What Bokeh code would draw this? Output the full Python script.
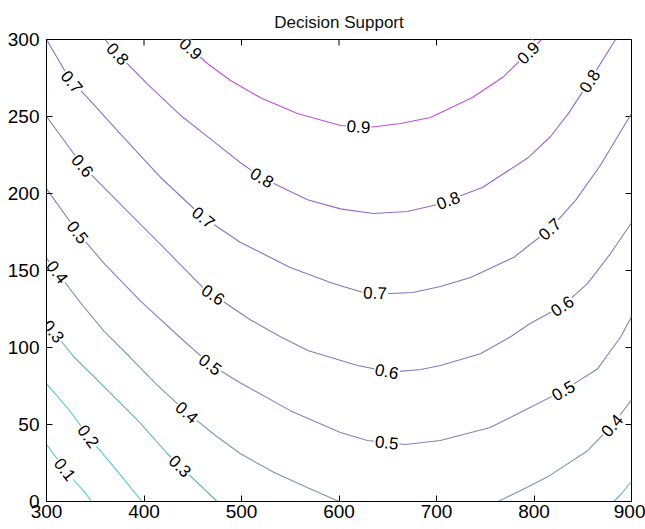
import numpy as np
from bokeh.plotting import figure
from bokeh.models import Range1d, FixedTicker, ColumnDataSource
from bokeh.embed import file_html
from bokeh.resources import INLINE
from bokeh.core.properties import value

# ---- data: traced contour lines of the decision-support surface ----
x_ticks = [300, 400, 500, 600, 700, 800, 900]
y_ticks = [0, 50, 100, 150, 200, 250, 300]

c01_x = [300, 310, 320, 330, 340, 346]
c01_y = [37, 28.5, 20, 12.5, 5.5, 0]

c02_x = [300, 323.6, 346.2, 369.7, 398]
c02_y = [76.6, 59.1, 39.6, 22, 0]

c03a_x = [300, 328, 363, 396, 424, 437, 475]
c03a_y = [116, 94, 72, 51, 31, 23, 0]
c03b_x = [882, 891, 900]
c03b_y = [0, 6, 13]

c04a_x = [300, 311, 335, 358.5, 386, 412, 443.6, 473, 499, 533, 568, 600]
c04a_y = [158, 149, 129, 111, 93.5, 76.6, 58, 43, 31, 19, 9, 0]
c04b_x = [763, 786, 814, 855, 881, 900]
c04b_y = [0, 7, 16, 33, 50, 66]

c05_x = [300, 333, 358.5, 396, 437, 468, 499, 550, 601.5, 629, 668, 704,
         755, 796, 830, 865, 889, 900]
c05_y = [203, 174, 155, 130.5, 106.5, 89, 77, 59, 44.8, 39.6, 37, 39.6,
         48, 61, 72, 86, 107, 120]

c06_x = [300, 337, 379, 420, 461, 509, 540, 568, 619, 653, 684, 704, 745,
         776, 796, 830, 855, 878.5, 900]
c06_y = [250, 218, 191, 165, 138.5, 118, 107, 98, 88.3, 84, 85.7, 88.3, 96,
         107, 115.6, 127.3, 141.6, 161, 181]

c07_x = [300, 324.6, 342, 379, 417, 461, 499, 550, 594, 625, 653, 676, 704,
         735, 779, 817, 842.6, 868, 900]
c07_y = [300, 273.4, 262.3, 236.4, 210.4, 184.4, 168.2, 152, 141.6, 135.7,
         135.1, 135.7, 139.6, 145.5, 158.4, 177.3, 195.5, 218.2, 252]

c08_x = [360, 371, 403.6, 437, 471, 499, 521.5, 567.7, 601.5, 635, 670, 701,
         747, 794.4, 817, 835.4, 856, 883.6]
c08_y = [300, 292, 271, 251, 234, 220, 210, 196, 190, 187, 188.3, 192.9,
         203.9, 223.4, 237, 252, 272, 300]

c09_x = [437.4, 465, 488.7, 520, 557.4, 601.5, 630.3, 663, 693.8, 736.9,
         767.7, 794.4, 807.7]
c09_y = [300, 284.4, 273.4, 262, 252, 244.2, 242.9, 245.5, 249.4, 262.3,
         275.3, 291.6, 300]

# ---- styling ----
level_colors = {
    0.1: "#3ed2d2", 0.2: "#4ccad0", 0.3: "#62b0c0", 0.4: "#7898b0",
    0.5: "#7a88b8", 0.6: "#7c80bc", 0.7: "#8476c0", 0.8: "#9868c8",
    0.9: "#c050d6",
}

# (level, xs, ys, x positions of the inline labels)
branches = [
    (0.1, c01_x, c01_y, [319]),
    (0.2, c02_x, c02_y, [343]),
    (0.3, c03a_x, c03a_y, [307, 437]),
    (0.3, c03b_x, c03b_y, []),
    (0.4, c04a_x, c04a_y, [311, 444]),
    (0.4, c04b_x, c04b_y, [880]),
    (0.5, c05_x, c05_y, [332, 468, 649, 830]),
    (0.6, c06_x, c06_y, [337, 471, 649, 829]),
    (0.7, c07_x, c07_y, [326, 461, 637, 816]),
    (0.8, c08_x, c08_y, [373, 521, 712, 857]),
    (0.9, c09_x, c09_y, [448, 620, 794]),
]

W, H = 645, 529
BL, BR, BT, BB = 46, 14, 39, 28
XR = (300, 900)
YR = (0, 300)
TICK = 6  # inward tick length, px

p = figure(width=W, height=H, x_range=Range1d(*XR), y_range=Range1d(*YR),
           output_backend="svg", toolbar_location=None,
           min_border_left=BL, min_border_right=BR,
           min_border_top=BT, min_border_bottom=BB,
           title="Decision Support")
p.background_fill_color = "white"
p.border_fill_color = "white"
p.grid.visible = False
p.outline_line_color = "black"
p.outline_line_width = 1

p.title.align = "center"
p.title.text_font = "Liberation Sans"
p.title.text_font_size = "17px"
p.title.text_font_style = "normal"
p.title.text_color = "#111111"
p.title.standoff = 16

tick_font = "Liberation Sans"
tick_size = "19px"

for ax in p.xaxis:
    ax.ticker = FixedTicker(ticks=x_ticks)
    ax.major_label_standoff = 3
for ax in p.yaxis:
    ax.ticker = FixedTicker(ticks=y_ticks)
    ax.major_label_standoff = 7
for ax in list(p.xaxis) + list(p.yaxis):
    ax.major_tick_in = TICK
    ax.major_tick_out = 0
    ax.minor_tick_in = 0
    ax.minor_tick_out = 0
    ax.axis_line_color = "black"
    ax.major_tick_line_color = "black"
    ax.major_label_text_font = tick_font
    ax.major_label_text_font_size = tick_size
    ax.major_label_text_color = "black"

sx = (W - BL - BR) / (XR[1] - XR[0])
sy = (H - BT - BB) / (YR[1] - YR[0])

# mirrored inward ticks along the top and right edges of the box
p.segment(x0=x_ticks, y0=[YR[1]] * len(x_ticks),
          x1=x_ticks, y1=[YR[1] - TICK / sy] * len(x_ticks),
          line_color="black", line_width=1)
p.segment(x0=[XR[1]] * len(y_ticks), y0=y_ticks,
          x1=[XR[1] - TICK / sx] * len(y_ticks), y1=y_ticks,
          line_color="black", line_width=1)

# contour lines
for lvl, xs, ys, _ in branches:
    p.line(xs, ys, line_color=level_colors[lvl], line_width=1.1)

# inline labels, rotated along the local direction of each line
lab = dict(x=[], y=[], t=[], a=[])
for lvl, xs, ys, lxs in branches:
    for lx in lxs:
        ly = float(np.interp(lx, xs, ys))
        d = 4.0
        dy = float(np.interp(lx + d, xs, ys) - np.interp(lx - d, xs, ys))
        ang = float(np.arctan2(dy * sy, 2 * d * sx))
        lab["x"].append(lx)
        lab["y"].append(ly)
        lab["t"].append(f"{lvl:.1f}")
        lab["a"].append(ang)

p.text(x="x", y="y", text="t", angle="a", source=ColumnDataSource(lab),
       text_align="center", text_baseline="middle",
       text_font=value("Liberation Sans"), text_font_size="17px",
       text_color="black", background_fill_color="white", padding=1)

open("out.html", "w").write(file_html(p, INLINE))
